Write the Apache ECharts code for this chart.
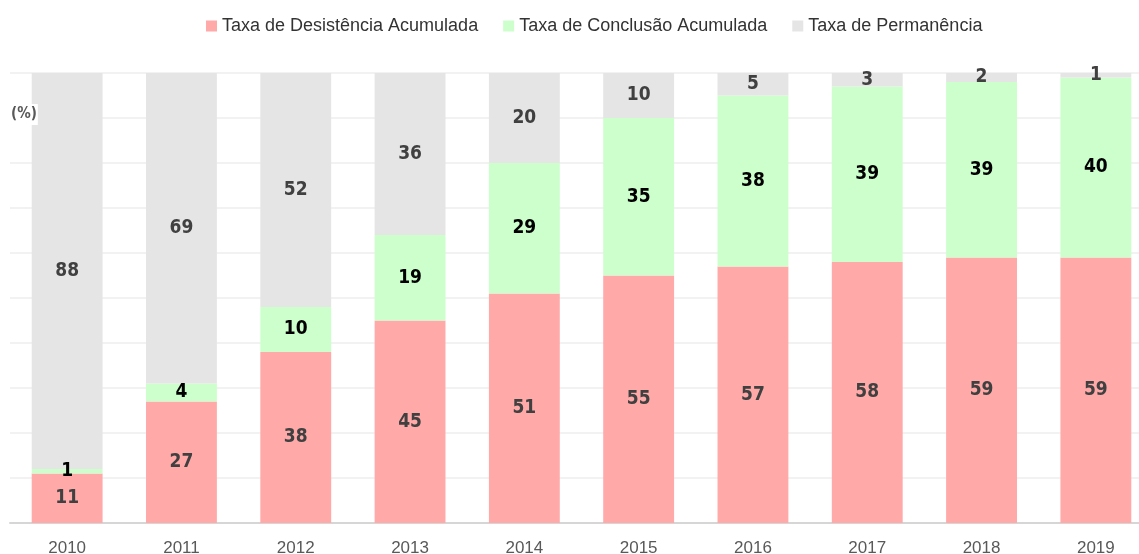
<!DOCTYPE html>
<html>
<head>
<meta charset="utf-8">
<script src="https://cdn.jsdelivr.net/npm/echarts@6/dist/echarts.min.js"></script>
<style>
  html, body { margin: 0; padding: 0; background: #fff; }
  #main { width: 1139px; height: 554px; }
</style>
</head>
<body>
<div id="main"></div>
<script>
// dados (%)
var years = ['2010', '2011', '2012', '2013', '2014', '2015', '2016', '2017', '2018', '2019'];
var desistencia = [11, 27, 38, 45, 51, 55, 57, 58, 59, 59];
var conclusao = [1, 4, 10, 19, 29, 35, 38, 39, 39, 40];
var permanencia = [88, 69, 52, 36, 20, 10, 5, 3, 2, 1];

var labelFont = '"Liberation Sans Narrow", "DejaVu Sans Condensed", sans-serif';

var chart = echarts.init(document.getElementById('main'));

function makeSeries(name, values, color, labelColor) {
  return {
    name: name,
    type: 'bar',
    stack: 'total',
    barWidth: '62%',
    data: values,
    itemStyle: { color: color },
    label: {
      show: true,
      position: 'inside',
      color: labelColor,
      fontFamily: labelFont,
      fontWeight: 'bold',
      fontSize: 19
    }
  };
}

var option = {
  animation: false,
  backgroundColor: '#fff',
  legend: {
    top: 12,
    left: 201,
    itemWidth: 11,
    itemHeight: 11,
    itemGap: 25,
    icon: 'rect',
    textStyle: { fontFamily: '"Liberation Sans", sans-serif', fontSize: 18, color: '#333' }
  },
  grid: { left: 10, right: -14, top: 73, bottom: 31, outerBoundsMode: 'none' },
  xAxis: {
    type: 'category',
    data: years,
    axisLine: { lineStyle: { color: '#d6d6d6', width: 2 } },
    axisTick: { show: false },
    axisLabel: { fontFamily: '"Liberation Sans", sans-serif', fontSize: 17, color: '#595959', margin: 17 }
  },
  yAxis: {
    type: 'value',
    min: 0,
    max: 100,
    interval: 10,
    axisLabel: { show: false },
    axisLine: { show: false },
    splitLine: { lineStyle: { color: '#eeeeee', width: 1.5 } }
  },
  graphic: [{
    type: 'text',
    left: 10,
    top: 104,
    z: 100,
    style: {
      text: '(%)',
      fill: '#595959',
      font: 'bold 15px ' + labelFont,
      backgroundColor: '#fff',
      padding: [3, 1, 3, 1]
    }
  }],
  series: [
    makeSeries('Taxa de Desistência Acumulada', desistencia, '#ffa9a9', '#404040'),
    makeSeries('Taxa de Conclusão Acumulada', conclusao, '#ccffcc', '#000'),
    makeSeries('Taxa de Permanência', permanencia, '#e5e5e5', '#404040')
  ]
};

chart.setOption(option);
</script>
</body>
</html>
